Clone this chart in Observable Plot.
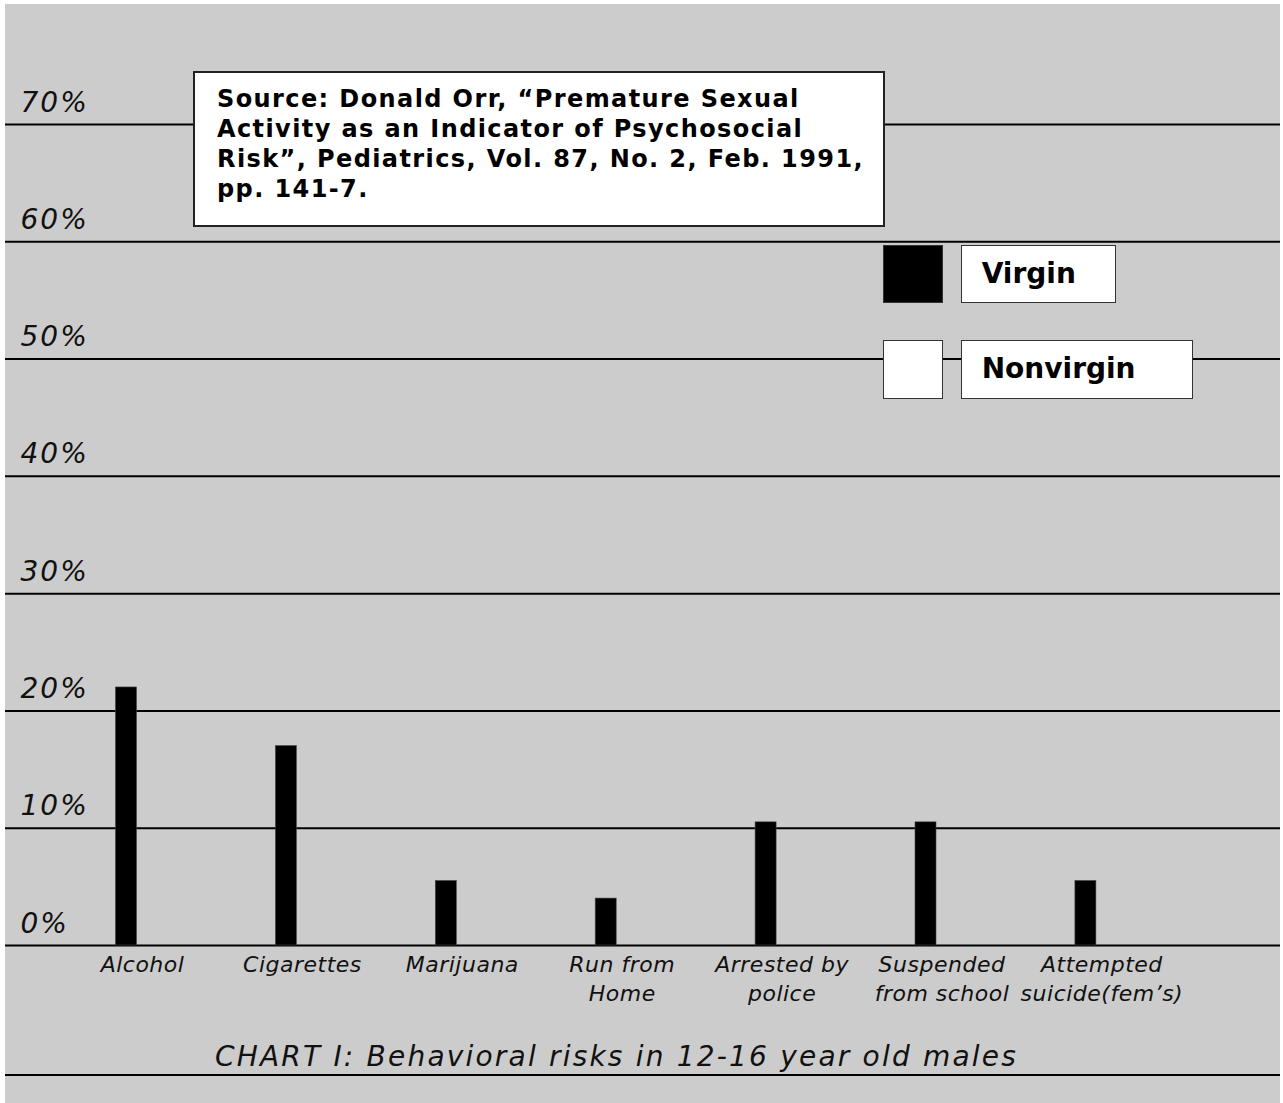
<!DOCTYPE html>
<html>
<head>
<meta charset="utf-8">
<script src="https://cdn.jsdelivr.net/npm/d3@7"></script>
<script src="https://cdn.jsdelivr.net/npm/@observablehq/plot@0.6"></script>
<style>
  html, body { margin: 0; padding: 0; background: #fff; }
  #frame { position: absolute; left: 5px; top: 4px; width: 1275px; height: 1099px; background: #cccccc; overflow: hidden; font-family: "DejaVu Sans", Verdana, sans-serif; }
  #chart { position: absolute; left: 0; top: 0; }
  #source { position: absolute; left: 188px; top: 67px; width: 692px; height: 156px; box-sizing: border-box; border: 2px solid #222; background: #fff; font-weight: bold; font-size: 24px; letter-spacing: 1.4px; line-height: 30px; padding: 11.4px 0 0 22px; color: #000; white-space: nowrap; }
  .lg { position: absolute; box-sizing: border-box; border: 1.5px solid #333; }
  .lgtext { position: absolute; font-weight: bold; font-size: 28px; line-height: 28px; color: #000; white-space: nowrap; }
  #title { position: absolute; left: 0; width: 1223px; top: 1038.5px; text-align: center; font-style: italic; font-size: 28px; letter-spacing: 2.2px; line-height: 28px; color: #111; white-space: nowrap; }
  #bottomline { position: absolute; left: 0; width: 1275px; top: 1070px; height: 2px; background: #000; }
</style>
</head>
<body>
<div id="frame">
  <div id="chart"></div>
  <div id="source"></div>
  <div class="lg" style="left:878px;top:241px;width:60px;height:58px;background:#000;"></div>
  <div class="lg" style="left:956px;top:241px;width:155px;height:58px;background:#fff;"></div>
  <div class="lgtext" id="lg1" style="left:976.7px;top:256.3px;"></div>
  <div class="lg" style="left:878px;top:336px;width:60px;height:59px;background:#fff;"></div>
  <div class="lg" style="left:956px;top:336px;width:232px;height:59px;background:#fff;"></div>
  <div class="lgtext" id="lg2" style="left:976.7px;top:351.3px;"></div>
  <div id="title"></div>
  <div id="bottomline"></div>
</div>
<script>
const categories = ["Alcohol", "Cigarettes", "Marijuana", "Run from\nHome", "Arrested by\npolice", "Suspended\nfrom school", "Attempted\nsuicide(fem’s)"];
const virgin = [22, 17, 5.5, 4, 10.5, 10.5, 5.5];
const yTicks = [0, 10, 20, 30, 40, 50, 60, 70];
const seriesNames = ["Virgin", "Nonvirgin"];
const sourceLines = ["Source: Donald Orr, “Premature Sexual", "Activity as an Indicator of Psychosocial", "Risk”, Pediatrics, Vol. 87, No. 2, Feb. 1991,", "pp. 141-7."];
const titleText = "CHART I: Behavioral risks in 12-16 year old males";

const data = categories.map((c, i) => ({category: c, value: virgin[i]}));

const chart = Plot.plot({
  width: 1275,
  height: 1010,
  marginLeft: 0,
  marginRight: 0,
  marginTop: 120,
  marginBottom: 69,
  style: {background: "transparent", fontFamily: "DejaVu Sans, Verdana, sans-serif", overflow: "visible"},
  x: {domain: categories, range: [110.5, 1090.9], paddingInner: 0.8687, paddingOuter: 0, round: false, axis: null},
  y: {domain: [0, 70], axis: null},
  marks: [
    Plot.ruleY(yTicks, {y: d => d, stroke: "#000", strokeWidth: 2}),
    Plot.text(yTicks, {y: d => d, text: d => d + "%", frameAnchor: "left", dx: 15, dy: -13, lineAnchor: "bottom", textAnchor: "start", fontSize: 28, fontStyle: "italic", fill: "#111"}),
    Plot.barY(data, {x: "category", y: "value", fill: "#000", stroke: "#444", strokeWidth: 0.6}),
    Plot.text(data, {x: "category", text: "category", frameAnchor: "bottom", lineAnchor: "top", dy: 6.4, dx: 16, fontSize: 22, fontStyle: "italic", lineHeight: 29 / 22, fill: "#111"})
  ]
});
const textGroups = d3.select(chart).selectAll('g[aria-label="text"]').nodes();
if (textGroups[0]) d3.select(textGroups[0]).style("letter-spacing", "2px");
if (textGroups[1]) d3.select(textGroups[1]).style("letter-spacing", "0.5px");
document.getElementById("chart").appendChild(chart);
document.getElementById("source").innerHTML = sourceLines.join("<br>");
document.getElementById("lg1").textContent = seriesNames[0];
document.getElementById("lg2").textContent = seriesNames[1];
document.getElementById("title").textContent = titleText;
</script>
</body>
</html>
